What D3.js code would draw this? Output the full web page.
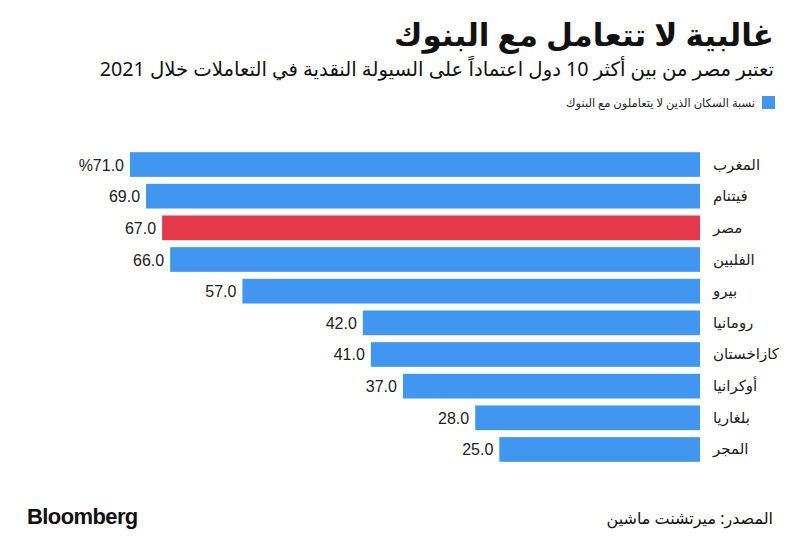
<!DOCTYPE html>
<html><head><meta charset="utf-8">
<script src="https://cdn.jsdelivr.net/npm/d3@7"></script>
<style>
html,body{margin:0;padding:0;background:#fff;}
svg{display:block;}
text{font-family:"Noto Sans","DejaVu Sans",sans-serif;}
</style></head>
<body>
<svg id="chart" width="800" height="555"></svg>
<script>
const countries = ["المغرب","فيتنام","مصر","الفلبين","بيرو","رومانيا","كازاخستان","أوكرانيا","بلغاريا","المجر"];
const values = [71,69,67,66,57,42,41,37,28,25];
const highlight = ["مصر"];
const valueLabels = ["%71.0","69.0","67.0","66.0","57.0","42.0","41.0","37.0","28.0","25.0"];
const title = "غالبية لا تتعامل مع البنوك";
const subtitle = "تعتبر مصر من بين أكثر 10 دول اعتماداً على السيولة النقدية في التعاملات خلال 2021";
const legendLabel = "نسبة السكان الذين لا يتعاملون مع البنوك";
const source = "المصدر: ميرتشنت ماشين";

const svg = d3.select("#chart");
const blue = "#4197ef", red = "#e5394b";

const x = d3.scaleLinear().domain([0, 71]).range([700, 130]);
const y = d3.scaleBand().domain(countries).range([149, 465]).paddingInner(0.22).paddingOuter(0.1);

svg.append("text").attr("x", 774).attr("y", 46).attr("text-anchor","end")
  .attr("font-size", 31).attr("font-weight", 800).attr("fill","#111").text(title);
svg.append("text").attr("x", 774).attr("y", 76).attr("text-anchor","end")
  .attr("font-size", 19.7).attr("fill","#111").text(subtitle);

svg.append("rect").attr("x", 762).attr("y", 96).attr("width", 13).attr("height", 13).attr("fill", blue);
svg.append("text").attr("x", 755).attr("y", 107).attr("text-anchor","end")
  .attr("font-size", 11.5).attr("fill","#222").text(legendLabel);

const g = svg.append("g");
g.selectAll("rect.bar").data(countries).join("rect").attr("class","bar")
  .attr("x", (d,i)=>x(values[i])).attr("width",(d,i)=>x(0)-x(values[i]))
  .attr("y", d=>y(d)).attr("height", y.bandwidth())
  .attr("fill", d=> highlight.includes(d) ? red : blue);

g.selectAll("text.val").data(countries).join("text").attr("class","val")
  .attr("x",(d,i)=>x(values[i]) - 6).attr("y", d=>y(d)+y.bandwidth()/2+6)
  .attr("text-anchor","end").attr("font-size",16).attr("fill","#222")
  .style("font-family","'Liberation Sans',Arial,sans-serif")
  .style("direction","ltr")
  .text((d,i)=>valueLabels[i]);

g.selectAll("text.cat").data(countries).join("text").attr("class","cat")
  .attr("x", 713).attr("y", d=>y(d)+y.bandwidth()/2+5)
  .attr("text-anchor","start").attr("font-size",15).attr("fill","#222")
  .text(d=>d);

svg.append("text").attr("x", 27).attr("y", 524).attr("font-size", 22).attr("font-weight", 700)
  .attr("fill","#111").style("font-family","'Liberation Sans',Arial,sans-serif").attr("letter-spacing","-0.6").text("Bloomberg");
svg.append("text").attr("x", 773).attr("y", 524).attr("text-anchor","end")
  .attr("font-size", 16).attr("fill","#111").text(source);
</script>
</body></html>
